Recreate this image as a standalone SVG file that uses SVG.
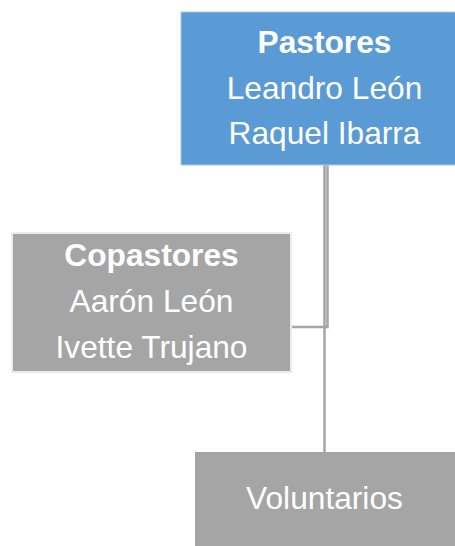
<svg xmlns="http://www.w3.org/2000/svg" width="455" height="546" viewBox="0 0 455 546">
<style>
.t{font-family:"Liberation Sans",Arial,sans-serif;font-size:31.7px;fill:#ffffff;text-anchor:middle}
.b{font-weight:bold}
.ln{stroke:#a5a5a5;stroke-width:2.5;fill:none}
</style>
<rect width="455" height="546" fill="#ffffff"/>
<g id="connectors">
<line class="ln" x1="324.5" y1="165" x2="324.5" y2="452"/>
<polyline class="ln" points="327.5,165 327.5,327 292,327"/>
</g>
<g id="pastores">
<rect x="181" y="12" width="290" height="153" fill="#5b9bd5" stroke="#a9c8e8" stroke-width="1"/>
<text class="t b" x="324.5" y="52.5">Pastores</text>
<text class="t" x="324.5" y="98.5">Leandro León</text>
<text class="t" x="324.5" y="144">Raquel Ibarra</text>
</g>
<g id="copastores">
<rect x="12" y="233" width="279" height="139" fill="#a5a5a5" stroke="#ebebeb" stroke-width="2"/>
<text class="t b" x="151.5" y="265.5">Copastores</text>
<text class="t" x="151.5" y="312">Aarón León</text>
<text class="t" x="151.5" y="357.5">Ivette Trujano</text>
</g>
<g id="voluntarios">
<rect x="195" y="452" width="275" height="100" fill="#a5a5a5"/>
<text class="t" x="324.5" y="509">Voluntarios</text>
</g>
</svg>
